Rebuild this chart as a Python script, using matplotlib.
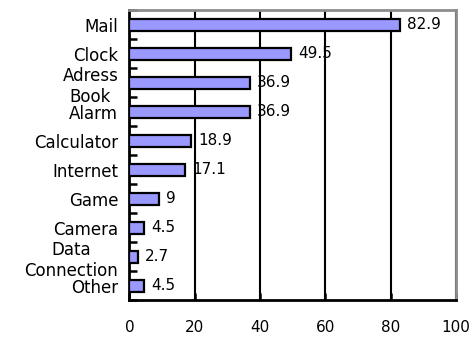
import numpy as np
import matplotlib
matplotlib.use('Agg')
import matplotlib.pyplot as plt
from matplotlib.ticker import FixedLocator

# Data
categories = ['Mail', 'Clock', 'Adress\nBook', 'Alarm', 'Calculator',
              'Internet', 'Game', 'Camera', 'Data\nConnection', 'Other']
values = [82.9, 49.5, 36.9, 36.9, 18.9, 17.1, 9, 4.5, 2.7, 4.5]
value_labels = ['82.9', '49.5', '36.9', '36.9', '18.9', '17.1', '9', '4.5', '2.7', '4.5']
x_ticks = [0, 20, 40, 60, 80, 100]

plt.rcParams['font.family'] = ['DejaVu Sans']

fig = plt.figure(figsize=(4.74, 3.38), dpi=100)
ax = fig.add_axes([0.273, 0.112, 0.689, 0.858])

y = np.arange(len(categories))
ax.barh(y, values, height=0.42, color='#9999ff', edgecolor='black', linewidth=1.6, zorder=3)

for yi, v, lab in zip(y, values, value_labels):
    ax.annotate(lab, (v, yi), xytext=(5, 0), textcoords='offset points',
                va='center', ha='left', fontsize=11)

ax.set_xlim(0, 100)
ax.set_ylim(len(categories) - 0.5, -0.5)
ax.set_xticks(x_ticks)
ax.set_xticklabels([str(t) for t in x_ticks], fontsize=11)
ax.set_yticks(y)
ax.set_yticklabels(categories, fontsize=12, linespacing=1.25, multialignment='center')

# tick marks between categories, pointing inwards
ax.yaxis.set_minor_locator(FixedLocator(np.arange(len(categories) + 1) - 0.5))
ax.tick_params(axis='y', which='major', length=0, pad=8)
ax.tick_params(axis='y', which='minor', direction='in', length=6, width=1.8)
ax.tick_params(axis='x', which='major', direction='in', length=5, width=1.8, pad=14)

ax.grid(axis='x', color='black', linewidth=1.5, zorder=0)
ax.set_axisbelow(True)

for s in ['left', 'bottom']:
    ax.spines[s].set_linewidth(2)
    ax.spines[s].set_color('black')
for s in ['top', 'right']:
    ax.spines[s].set_linewidth(2)
    ax.spines[s].set_color('#8c8c8c')

plt.savefig('out.png', dpi=100)
plt.close()
